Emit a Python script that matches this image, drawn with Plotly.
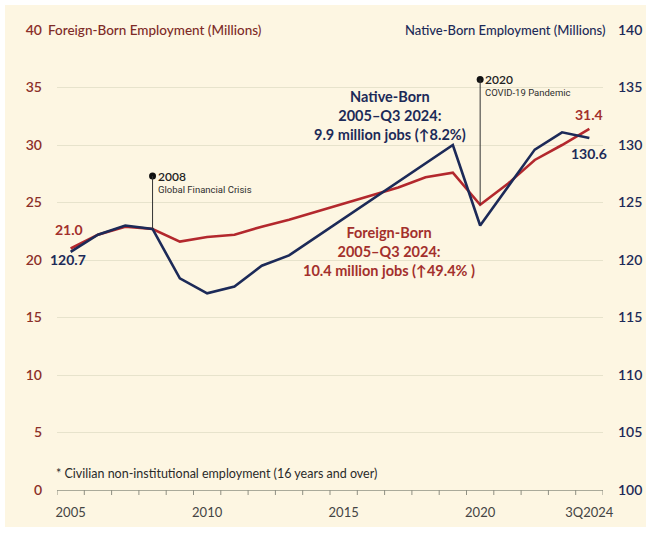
import plotly.graph_objects as go

# Annual employment, 2005 through Q3 2024 (millions)
periods = [str(y) for y in range(2005, 2024)] + ["3Q2024"]
foreign_born = [21.0, 22.2, 22.9, 22.7, 21.6, 22.0, 22.2, 22.9, 23.5, 24.2,
                24.9, 25.6, 26.3, 27.2, 27.6, 24.8, 26.6, 28.7, 30.0, 31.4]
native_born = [120.7, 122.2, 123.0, 122.7, 118.4, 117.1, 117.7, 119.5, 120.4, 122.0,
               123.6, 125.2, 126.8, 128.4, 130.0, 123.0, 126.3, 129.6, 131.1, 130.6]
tick_labels = {"2005": "2005", "2010": "2010", "2015": "2015", "2020": "2020", "3Q2024": "3Q2024"}

# Event call-outs: year, headline, subtitle, height of the marker (left-axis units)
events = [("2008", "2008", "Global Financial Crisis", 27.3),
          ("2020", "2020", "COVID-19 Pandemic", 35.7)]

nb_summary = "Native-Born<br>2005–Q3 2024:<br>9.9 million jobs (↑8.2%)"
fb_summary = "Foreign-Born<br>2005–Q3 2024:<br>10.4 million jobs (↑49.4% )"

RED = "#b3282d"
RED_TXT = "#a3302c"
NAVY = "#1c2a58"
BG = "#fdf6e2"
GRID = "#e7e3cc"
FONT = "Lato"

W, H = 646, 533
ML, MR, MT, MB = 57, 43, 30, 43
PW, PH = W - ML - MR, H - MT - MB


def px(x):
    return (x - ML) / PW


def py(y):
    return (H - MB - y) / PH


def idx(p):
    return periods.index(p)


fig = go.Figure()

fig.add_trace(go.Scatter(x=periods, y=foreign_born, mode="lines", yaxis="y",
                         line=dict(color=RED, width=2.6), hoverinfo="skip"))
fig.add_trace(go.Scatter(x=periods, y=native_born, mode="lines", yaxis="y2",
                         line=dict(color=NAVY, width=2.6), hoverinfo="skip"))

# Event markers with vertical leader lines down to the series
for year, head, sub, h in events:
    i = idx(year)
    fig.add_shape(type="line", xref="x", yref="y", x0=i, x1=i, y0=h, y1=foreign_born[i],
                  line=dict(color="#333333", width=1))
    fig.add_annotation(x=i, y=h, xref="x", yref="y", text=head, showarrow=False,
                       xanchor="left", yanchor="middle", xshift=3,
                       font=dict(family=FONT, size=12, color="#222222", weight=600))
    fig.add_annotation(x=i, y=h, xref="x", yref="y", text=sub, showarrow=False,
                       xanchor="left", yanchor="middle", xshift=3, yshift=-13,
                       font=dict(family="Roboto", size=9.5, color="#2e2e2e", weight=400))
fig.add_trace(go.Scatter(x=[e[0] for e in events], y=[e[3] for e in events],
                         mode="markers", yaxis="y",
                         marker=dict(color="#111111", size=7), hoverinfo="skip"))

# Baseline with a tick at every year boundary
n = len(periods)
for b in range(n + 1):
    fig.add_shape(type="line", xref="x", yref="paper", x0=b - 0.5, x1=b - 0.5,
                  y0=0, y1=-5 / PH, line=dict(color="#8f8f82", width=1))

# Start / end value labels
fig.add_annotation(x=0, y=foreign_born[0], xref="x", yref="y",
                   text=f"{foreign_born[0]:.1f}", showarrow=False, yshift=19, xshift=-2,
                   font=dict(family=FONT, size=14, color=RED_TXT, weight="bold"))
fig.add_annotation(x=0, y=native_born[0], xref="x", yref="y2",
                   text=f"{native_born[0]:.1f}", showarrow=False, yshift=-8, xshift=-3,
                   font=dict(family=FONT, size=14, color=NAVY, weight="bold"))
last = n - 1
fig.add_annotation(x=last, y=foreign_born[-1], xref="x", yref="y",
                   text=f"{foreign_born[-1]:.1f}", showarrow=False, yshift=14,
                   font=dict(family=FONT, size=14, color=RED_TXT, weight="bold"))
fig.add_annotation(x=last, y=native_born[-1], xref="x", yref="y2",
                   text=f"{native_born[-1]:.1f}", showarrow=False, yshift=-15,
                   font=dict(family=FONT, size=14, color=NAVY, weight="bold"))

# Change summaries
fig.add_annotation(x=px(390), y=py(115), xref="paper", yref="paper", text=nb_summary,
                   showarrow=False, xanchor="center", yanchor="middle", align="center",
                   font=dict(family=FONT, size=14.5, color=NAVY, weight="bold"))
fig.add_annotation(x=px(389), y=py(251), xref="paper", yref="paper", text=fb_summary,
                   showarrow=False, xanchor="center", yanchor="middle", align="center",
                   font=dict(family=FONT, size=14.5, color=RED_TXT, weight="bold"))

# Axis titles sitting on the top gridline
fig.add_annotation(x=px(46), y=1, xref="paper", yref="paper",
                   text="Foreign-Born Employment (Millions)", showarrow=False,
                   xanchor="left", yanchor="middle", bgcolor=BG, borderpad=1,
                   font=dict(family=FONT, size=13.5, color="#7e2b27", weight=500))
fig.add_annotation(x=px(607), y=1, xref="paper", yref="paper",
                   text="Native-Born Employment (Millions)", showarrow=False,
                   xanchor="right", yanchor="middle", bgcolor=BG, borderpad=1,
                   font=dict(family=FONT, size=13, color=NAVY, weight=500))

fig.add_annotation(x=px(54), y=py(473), xref="paper", yref="paper",
                   text="* Civilian non-institutional employment (16 years and over)",
                   showarrow=False, xanchor="left", yanchor="middle",
                   font=dict(family=FONT, size=12.5, color="#2a2a2a"))

fig.update_layout(
    width=W, height=H,
    margin=dict(l=ML, r=MR, t=MT, b=MB, autoexpand=False),
    paper_bgcolor=BG, plot_bgcolor=BG,
    showlegend=False,
    xaxis=dict(type="category", categoryorder="array", categoryarray=periods,
               range=[-0.5, n - 0.5], automargin=False,
               tickmode="array", tickvals=periods,
               ticktext=[tick_labels.get(p, "") for p in periods], tickangle=0,
               ticks="", ticklabelstandoff=10,
               showline=True, linecolor="#aaaa9a", linewidth=1,
               showgrid=False, zeroline=False,
               tickfont=dict(family=FONT, size=13, color="#444444")),
    yaxis=dict(range=[0, 40], dtick=5, showgrid=True, gridcolor=GRID, gridwidth=1,
               zeroline=False, ticks="", ticklabelstandoff=14, automargin=False,
               tickfont=dict(family=FONT, size=14, color="#8c3029", weight=600)),
    yaxis2=dict(range=[100, 140], dtick=5, overlaying="y", side="right",
                showgrid=False, zeroline=False, ticks="", ticklabelstandoff=14,
                automargin=False,
                tickfont=dict(family=FONT, size=14, color=NAVY, weight=600)),
)

# Thin white frame around the card
for x0, x1, y0, y1 in [(0, 5, 0, H), (0, W, 0, 5), (0, W, H - 6, H)]:
    fig.add_shape(type="rect", xref="paper", yref="paper",
                  x0=px(x0), x1=px(x1), y0=py(y1), y1=py(y0),
                  fillcolor="white", line=dict(width=0), layer="above")

fig.write_html("out.html")
